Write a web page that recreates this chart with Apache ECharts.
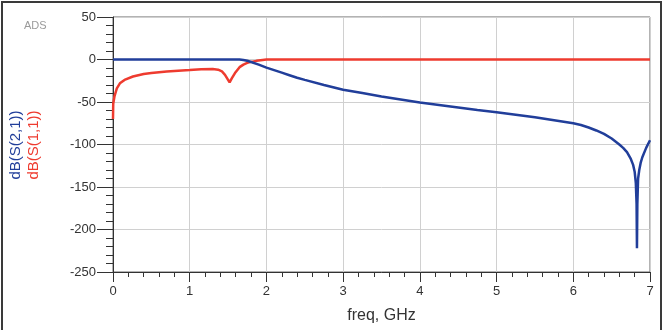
<!DOCTYPE html>
<html>
<head>
<meta charset="utf-8">
<script src="https://cdn.jsdelivr.net/npm/echarts@6/dist/echarts.min.js"></script>
<style>html,body{margin:0;padding:0;background:#fff;}#c{width:664px;height:330px;}</style>
</head>
<body>
<div id="c"></div>
<script>
// Frequency (GHz) / dB points
var s21Freq = [0,0.5,1,1.5,1.65,1.7,1.75,1.8,1.9,2.0,2.1,2.2,2.3,2.4,2.5,2.75,3,3.25,3.5,3.75,4,4.25,4.5,4.75,5,5.25,5.5,5.75,6,6.1,6.2,6.3,6.4,6.5,6.6,6.65,6.7,6.75,6.78,6.8,6.815,6.825,6.83,6.835,6.845,6.86,6.88,6.9,6.95,7];
var s21dB   = [0,0,0,0,0,-0.5,-1.5,-3,-6,-9.5,-12.5,-15.5,-18.5,-21.5,-24,-30,-35.5,-39.5,-43.5,-47,-50.5,-53.5,-56.5,-59.5,-62,-65,-68,-71.5,-75,-77,-80,-83.5,-87.5,-93,-100,-104,-109,-117,-124,-132,-145,-170,-222,-170,-140,-130,-121,-115,-104,-95];
var s11Freq = [0,0.003,0.02,0.05,0.09,0.15,0.26,0.4,0.5,0.7,0.9,1.0,1.15,1.3,1.37,1.42,1.46,1.5,1.52,1.55,1.59,1.65,1.7,1.75,1.8,1.87,1.95,2.0,3,4,5,6,7];
var s11dB   = [-70,-52,-43,-34,-28,-24,-20,-17,-16,-14,-12.8,-12.3,-11.5,-11.2,-12,-14,-18,-24,-27,-22,-16,-9,-6,-4,-2.8,-1.6,-0.5,0,0,0,0,0,0];
var xTicks = [0,1,2,3,4,5,6,7];
var yTicks = [-250,-200,-150,-100,-50,0,50];
var seriesNames = ['dB(S(2,1))','dB(S(1,1))'];

function pairs(xs, ys){ var o=[]; for(var i=0;i<xs.length;i++) o.push([xs[i], ys[i]]); return o; }

var chart = echarts.init(document.getElementById('c'), null, {renderer:'canvas'});
var font = "'Liberation Sans', Arial, sans-serif";
chart.setOption({
  animation:false,
  backgroundColor:'#fff',
  grid:{left:113, right:14, top:17, bottom:58, show:true, borderColor:'#666', borderWidth:1},
  xAxis:{
    type:'value', min:xTicks[0], max:xTicks[xTicks.length-1], interval:1,
    name:'freq, GHz', nameLocation:'middle', nameGap:36,
    nameTextStyle:{fontSize:16, color:'#333', fontFamily:font},
    axisLine:{show:true, onZero:false, lineStyle:{color:'#333', width:1}},
    axisTick:{show:true, inside:false, length:10, lineStyle:{color:'#333'}},
    minorTick:{show:true, splitNumber:5, length:5, lineStyle:{color:'#333'}},
    axisLabel:{fontSize:13, color:'#333', margin:13, fontFamily:font},
    splitLine:{show:true, lineStyle:{color:'#d0d0d0', width:1}}
  },
  yAxis:{
    type:'value', min:yTicks[0], max:yTicks[yTicks.length-1], interval:50,
    axisLine:{show:true, onZero:false, lineStyle:{color:'#333', width:1}},
    axisTick:{show:true, inside:false, length:16, lineStyle:{color:'#333'}},
    minorTick:{show:true, splitNumber:5, length:7, lineStyle:{color:'#333'}},
    axisLabel:{fontSize:13, color:'#333', margin:17, fontFamily:font},
    splitLine:{show:true, lineStyle:{color:'#d0d0d0', width:1}}
  },
  graphic:[
    {type:'rect', shape:{x:2, y:2, width:659, height:340}, style:{fill:'none', stroke:'#3a3a3a', lineWidth:2}, silent:true},
    {type:'text', left:24, top:20, style:{text:'ADS', fontSize:11, fill:'#9a9a9a', fontFamily:font}},
    {type:'text', x:16, y:145, rotation:Math.PI/2, style:{text:seriesNames[0], fontSize:15, fill:'#213e9a', fontFamily:font, align:'center', verticalAlign:'middle'}},
    {type:'text', x:34, y:145, rotation:Math.PI/2, style:{text:seriesNames[1], fontSize:15, fill:'#ee3b2f', fontFamily:font, align:'center', verticalAlign:'middle'}}
  ],
  series:[
    {name:seriesNames[1], type:'line', data:pairs(s11Freq, s11dB), showSymbol:false, smooth:false, lineStyle:{color:'#ee3b2f', width:2.5}, z:3},
    {name:seriesNames[0], type:'line', data:pairs(s21Freq, s21dB), showSymbol:false, smooth:false, lineStyle:{color:'#213e9a', width:2.5}, z:4}
  ]
});
</script>
</body>
</html>
